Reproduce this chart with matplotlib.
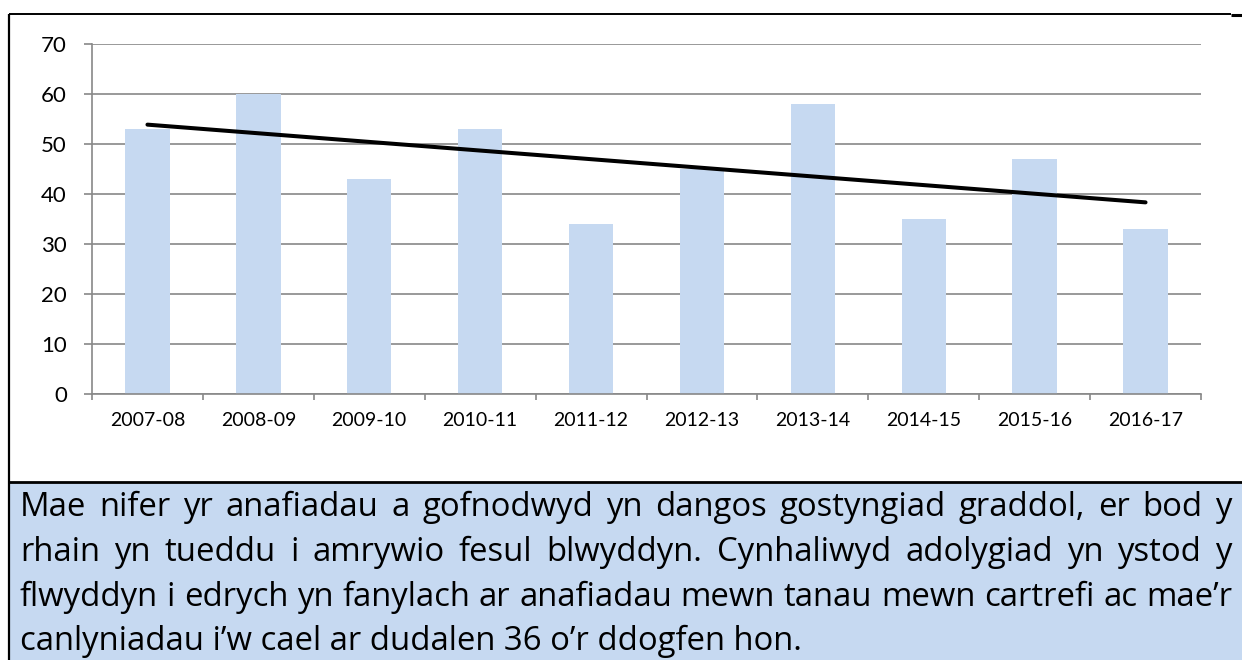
import numpy as np
import matplotlib
matplotlib.use("Agg")
import matplotlib.pyplot as plt
from matplotlib.lines import Line2D
from matplotlib.patches import Rectangle

# data
years = ["2007-08", "2008-09", "2009-10", "2010-11", "2011-12",
         "2012-13", "2013-14", "2014-15", "2015-16", "2016-17"]
injuries = [53, 60, 43, 53, 34, 45, 58, 35, 47, 33]
y_ticks = [0, 10, 20, 30, 40, 50, 60, 70]

caption_lines = [
    "Mae nifer yr anafiadau a gofnodwyd yn dangos gostyngiad graddol, er bod y",
    "rhain yn tueddu i amrywio fesul blwyddyn. Cynhaliwyd adolygiad yn ystod y",
    "flwyddyn i edrych yn fanylach ar anafiadau mewn tanau mewn cartrefi ac mae’r",
    "canlyniadau i’w cael ar dudalen 36 o’r ddogfen hon.",
]

W, H = 1242, 660
bar_color = "#C6D9F1"
grid_color = "#888888"
plt.rcParams["font.family"] = ["Lato", "DejaVu Sans"]
cap_font = ["Open Sans", "DejaVu Sans"]

fig = plt.figure(figsize=(W / 100, H / 100), dpi=100)


def px(x, y):
    # pixel (from top-left) -> figure fraction
    return x / W, 1 - y / H


# caption box + frame
fig.add_artist(Rectangle(px(10, 660), (W - 10) / W, (660 - 483) / H,
                         transform=fig.transFigure, facecolor=bar_color,
                         edgecolor="none", zorder=0))
for (x0, y0, x1, y1, lw) in [(9, 14, 1231, 14, 1.4), (9, 14, 9, 660, 1.6),
                             (9, 482, 1242, 482, 2.0), (1231, 15, 1242, 15, 2.2)]:
    a, b = px(x0, y0)
    c, d = px(x1, y1)
    fig.add_artist(Line2D([a, c], [b, d], transform=fig.transFigure,
                          color="black", lw=lw, solid_capstyle="butt"))

# chart
left, top = px(92, 44)
right, bottom = px(1201, 394)
ax = fig.add_axes([left, bottom, right - left, top - bottom])

x = np.arange(len(years))
ax.bar(x, injuries, width=0.4, color=bar_color, zorder=2)

# linear trend
k, b0 = np.polyfit(x, injuries, 1)
ax.plot(x, k * x + b0, color="black", lw=2.9, solid_capstyle="round", zorder=3)

ax.set_xlim(-0.5, len(years) - 0.5)
ax.set_ylim(0, 70)
ax.set_yticks(y_ticks)
ax.set_xticks(x)
ax.set_xticklabels(years, fontsize=14)
ax.set_xticks(np.arange(-0.5, len(years)), minor=True)
ax.tick_params(axis="x", which="major", length=0, pad=13)
ax.tick_params(axis="x", which="minor", length=4, width=1.2, color=grid_color)
ax.tick_params(axis="y", length=6, width=1.2, color=grid_color, pad=12, labelsize=16)

ax.yaxis.grid(True, color=grid_color, lw=1.2)
ax.set_axisbelow(True)
for s in ["top", "right"]:
    ax.spines[s].set_visible(False)
for s in ["left", "bottom"]:
    ax.spines[s].set_color(grid_color)
    ax.spines[s].set_linewidth(1.2)

# caption, justified like the word processor
x_l, x_r = 20, 1232
baselines = [516, 561, 606, 650]
renderer = fig.canvas.get_renderer()

# pick a font size so the tightest line just fits
probe = fig.text(0, 0, caption_lines[2], fontsize=20, family=cap_font)
fs = 20 * (x_r - x_l - 4) / probe.get_window_extent(renderer).width
probe.remove()

for i, line in enumerate(caption_lines):
    yb = px(0, baselines[i])[1]
    if i == len(caption_lines) - 1:
        fig.text(x_l / W, yb, line, fontsize=fs, family=cap_font,
                 va="baseline", ha="left")
        continue
    words = line.split(" ")
    texts = [fig.text(0, yb, w, fontsize=fs, family=cap_font,
                      va="baseline", ha="left") for w in words]
    widths = [t.get_window_extent(renderer).width for t in texts]
    gap = (x_r - x_l - sum(widths)) / (len(words) - 1)
    pos = x_l
    for t, w in zip(texts, widths):
        t.set_x(pos / W)
        pos += w + gap

fig.savefig("out.png", dpi=100)
